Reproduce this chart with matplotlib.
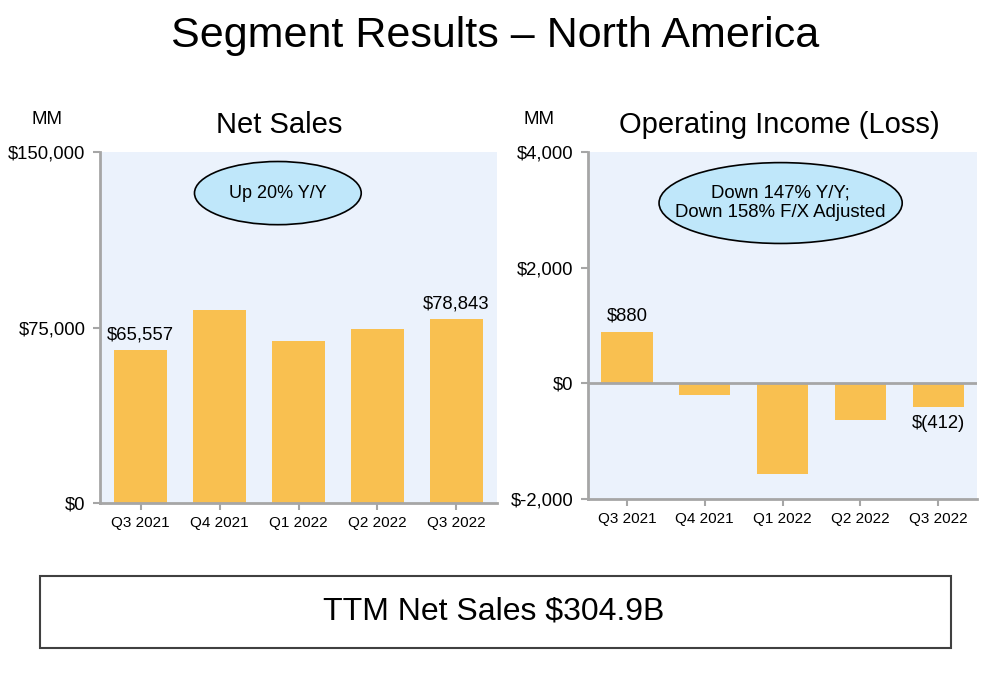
"""
Segment Results - North America : net sales and operating income
"""

import matplotlib
matplotlib.use('Agg')
import matplotlib.pyplot as plt
from matplotlib.patches import Ellipse, Rectangle
from matplotlib.ticker import FixedLocator

plt.rcParams['font.family'] = ['Liberation Sans', 'DejaVu Sans']

quarters = ['Q3 2021', 'Q4 2021', 'Q1 2022', 'Q2 2022', 'Q3 2022']
net_sales = [65557, 82360, 69244, 74430, 78843]
op_income = [880, -206, -1568, -627, -412]

sales_ticks = [0, 75000, 150000]
sales_tick_labels = ['$0', '$75,000', '$150,000']
income_ticks = [-2000, 0, 2000, 4000]
income_tick_labels = ['$-2,000', '$0', '$2,000', '$4,000']

bar_color = '#F9C050'
bg_color = '#EBF2FC'
bubble_color = '#BFE7FA'
spine_color = '#A6A6A6'


def style_axes(ax):
    ax.set_facecolor(bg_color)
    for side in ['top', 'right']:
        ax.spines[side].set_visible(False)
    for side in ['left', 'bottom']:
        ax.spines[side].set_color(spine_color)
        ax.spines[side].set_linewidth(2)
    ax.tick_params(axis='both', colors=spine_color, width=1.5, length=5,
                   labelcolor='black')
    ax.tick_params(axis='y', labelsize=13.3, pad=5.5)
    ax.tick_params(axis='x', labelsize=11, pad=4)


fig = plt.figure(figsize=(9.95, 6.73), dpi=100, facecolor='white')

fig.text(0.4975, 1 - 36 / 673, 'Segment Results \u2013 North America',
         ha='center', va='center', fontsize=31)

# Net sales
ax1 = fig.add_axes([0.1005, 0.2526, 0.399, 0.5215])
style_axes(ax1)
x = range(len(quarters))
ax1.bar(x, net_sales, width=0.67, color=bar_color, zorder=2)
ax1.set_xlim(-0.515, 4.515)
ax1.set_ylim(0, 150000)
ax1.yaxis.set_major_locator(FixedLocator(sales_ticks))
ax1.set_yticklabels(sales_tick_labels)
ax1.set_xticks(list(x))
ax1.set_xticklabels(quarters)
fig.text(279 / 995, 1 - 125 / 673, 'Net Sales', ha='center', va='center',
         fontsize=21)
fig.text(47 / 995, 1 - 120 / 673, 'MM', ha='center', va='center',
         fontsize=13.5)
ax1.text(0, net_sales[0] + 2500, f'${net_sales[0]:,}', ha='center',
         va='bottom', fontsize=13.3)
ax1.text(4, net_sales[4] + 2500, f'${net_sales[4]:,}', ha='center',
         va='bottom', fontsize=13.3)
ax1.add_patch(Ellipse((0.448, 0.883), 0.42, 0.18, transform=ax1.transAxes,
                      facecolor=bubble_color, edgecolor='black', lw=1.2,
                      zorder=3))
ax1.text(0.448, 0.883, 'Up 20% Y/Y', transform=ax1.transAxes, ha='center',
         va='center', fontsize=13, zorder=4)

# Operating income
ax2 = fig.add_axes([0.591, 0.2585, 0.391, 0.5156])
style_axes(ax2)
ax2.bar(x, op_income, width=0.66, color=bar_color, zorder=2)
ax2.axhline(0, color=spine_color, lw=2, zorder=3)
ax2.set_xlim(-0.5, 4.5)
ax2.set_ylim(-2000, 4000)
ax2.yaxis.set_major_locator(FixedLocator(income_ticks))
ax2.set_yticklabels(income_tick_labels)
ax2.set_xticks(list(x))
ax2.set_xticklabels(quarters)
fig.text(779.5 / 995, 1 - 125 / 673, 'Operating Income (Loss)', ha='center',
         va='center', fontsize=21)
fig.text(539 / 995, 1 - 120 / 673, 'MM', ha='center', va='center',
         fontsize=13.5)
ax2.text(0, op_income[0] + 130, f'${op_income[0]:,}', ha='center',
         va='bottom', fontsize=13.3)
ax2.text(4, op_income[4] - 130, f'$({-op_income[4]:,})', ha='center',
         va='top', fontsize=13.3)
ax2.add_patch(Ellipse((0.495, 0.853), 0.625, 0.233, transform=ax2.transAxes,
                      facecolor=bubble_color, edgecolor='black', lw=1.2,
                      zorder=3))
ax2.text(0.495, 0.853, 'Down 147% Y/Y;\nDown 158% F/X Adjusted',
         transform=ax2.transAxes, ha='center', va='center', fontsize=13.4,
         linespacing=1.2, zorder=4)

# TTM box
fig.patches.append(Rectangle((40 / 995, 1 - 648 / 673), 911 / 995, 72 / 673,
                             transform=fig.transFigure, facecolor='white',
                             edgecolor='#404040', lw=1.5))
fig.text(0.4965, 1 - 611 / 673, 'TTM Net Sales $304.9B', ha='center',
         va='center', fontsize=23)

fig.savefig('out.png', dpi=100)
